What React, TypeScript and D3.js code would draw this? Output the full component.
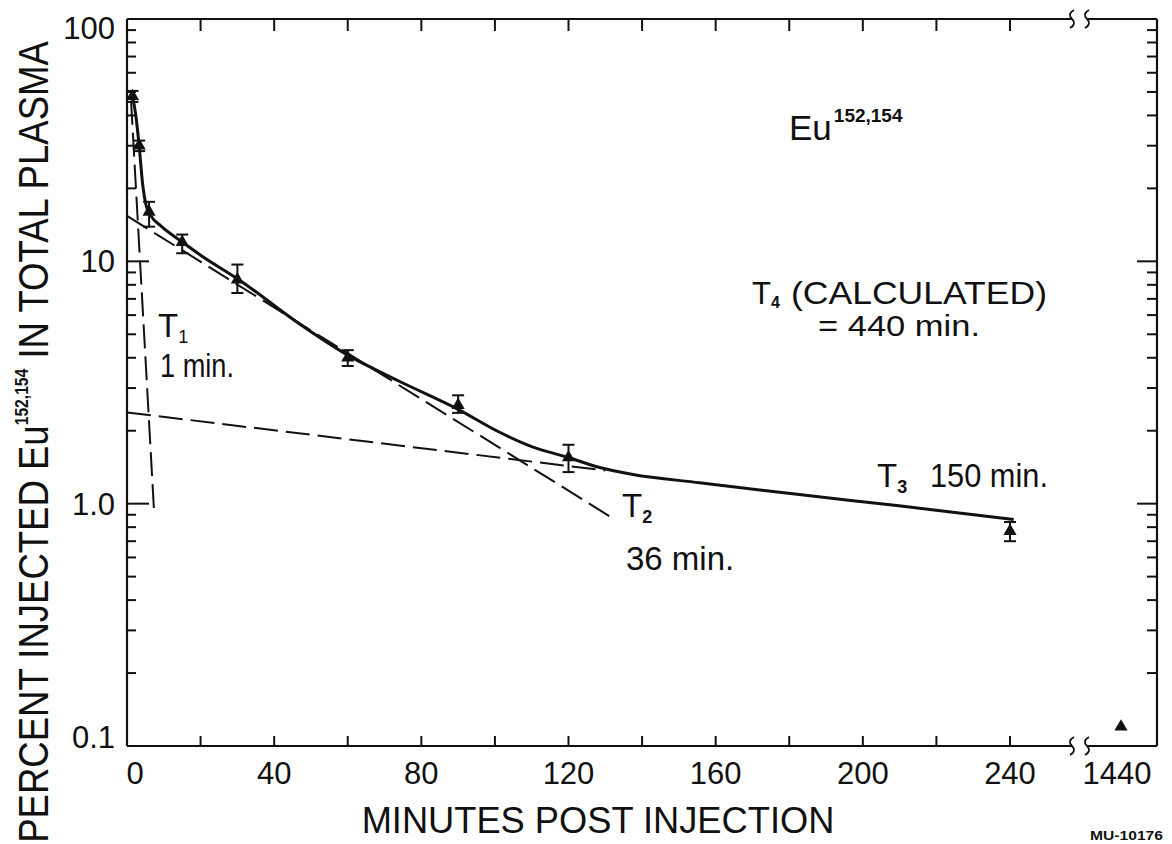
import * as d3 from "d3";

const WIDTH = 1172;
const HEIGHT = 844;

// measured samples (minutes post injection, % injected dose in plasma)
const sampleMinutes = [1.5, 3.3, 6, 15, 30, 60, 90, 120, 240];
const samplePercent = [48, 30, 16, 12, 8.4, 4.0, 2.55, 1.55, 0.77];
const errorHigh = [50.5, 31.5, 17.6, 12.9, 9.7, 4.3, 2.8, 1.75, 0.84];
const errorLow = [45.5, 28.5, 13.9, 10.8, 7.4, 3.7, 2.37, 1.35, 0.7];

const lateMinute = 1440;
const latePercent = 0.12;

// hand-drawn fitted curve
const fitMinutes = [1.5, 2.4, 3.3, 4.3, 5.2, 6.5, 9.2, 15.4, 20, 30.4, 47, 60, 74, 90, 101, 110, 120, 128.5, 137.5, 155.6, 182.7, 209.8, 241];
const fitPercent = [48, 40, 30, 20.5, 17, 15.4, 14, 11.9, 10.6, 8.4, 5.5, 4.1, 3.2, 2.45, 1.98, 1.72, 1.55, 1.41, 1.32, 1.22, 1.09, 0.98, 0.86];

// component half-life lines
const t1Minutes = [1.1, 7.3];
const t1Percent = [46, 0.96];
const t2Minutes = [0, 132.6];
const t2Percent = [15.4, 0.86];
const t3Minutes = [0, 130];
const t3Percent = [2.38, 1.37];

const xTickLabels = [0, 40, 80, 120, 160, 200, 240];
const xTickMarks = [20, 40, 60, 80, 100, 120, 140, 160, 180, 200, 220, 240];
const yTickValues = [100, 10, 1, 0.1];
const yTickText = ["100", "10", "1.0", "0.1"];

const FONT = "'Liberation Sans', Arial, sans-serif";

export default function App() {
  const left = 127;
  const right = 1157;
  const x = d3.scaleLinear().domain([0, 240]).range([left, 1010]);
  const xLate = d3.scaleLinear().domain([1400, 1480]).range([1085, right]);
  const y = d3.scaleLog().domain([0.1, 100]).range([746, 19]);
  const top = y(100);
  const bottom = y(0.1);
  const breakA = 1072;
  const breakB = 1087;

  const line = d3
    .line<[number, number]>()
    .x((d) => x(d[0]))
    .y((d) => y(d[1]));
  const fitLine = d3
    .line<[number, number]>()
    .x((d) => x(d[0]))
    .y((d) => y(d[1]))
    .curve(d3.curveMonotoneX);

  const fitPoints = fitMinutes.map((t, i) => [t, fitPercent[i]] as [number, number]);
  const dashed = [
    t1Minutes.map((t, i) => [t, t1Percent[i]] as [number, number]),
    t2Minutes.map((t, i) => [t, t2Percent[i]] as [number, number]),
    t3Minutes.map((t, i) => [t, t3Percent[i]] as [number, number])
  ];

  const minor: number[] = [];
  [0.1, 1, 10].forEach((d) => {
    for (let k = 2; k <= 9; k++) minor.push(k * d);
  });

  const tri = d3.symbol().type(d3.symbolTriangle).size(75)() ?? "";

  const squiggle = (cx: number, cy: number) =>
    `M${cx + 2},${cy - 9} Q${cx - 5},${cy - 5} ${cx},${cy} Q${cx + 5},${cy + 5} ${cx - 2},${cy + 9}`;

  return (
    <svg
      width={WIDTH}
      height={HEIGHT}
      viewBox={`0 0 ${WIDTH} ${HEIGHT}`}
      style={{ position: "absolute", left: 0, top: 0, background: "#fff" }}
      fontFamily={FONT}
    >
      <rect width={WIDTH} height={HEIGHT} fill="#fff" />

      {/* frame */}
      <g stroke="#111" strokeWidth={2.2} fill="none">
        <line x1={left} x2={left} y1={top} y2={bottom} />
        <line x1={right} x2={right} y1={top} y2={bottom} />
        <line x1={left} x2={breakA} y1={top} y2={top} />
        <line x1={breakB} x2={right} y1={top} y2={top} />
        <line x1={left} x2={breakA} y1={bottom} y2={bottom} />
        <line x1={breakB} x2={right} y1={bottom} y2={bottom} />
        {[breakA, breakB].map((bx) => (
          <g key={bx}>
            <path d={squiggle(bx, top)} strokeWidth={1.8} />
            <path d={squiggle(bx, bottom)} strokeWidth={1.8} />
          </g>
        ))}
      </g>

      {/* ticks */}
      <g stroke="#111" strokeWidth={2}>
        {xTickMarks.map((t) => (
          <g key={t}>
            <line x1={x(t)} x2={x(t)} y1={top} y2={top + 12} />
            <line x1={x(t)} x2={x(t)} y1={bottom} y2={bottom - 10} />
          </g>
        ))}
        {minor.map((v) => (
          <g key={v}>
            <line x1={left} x2={left + 9} y1={y(v)} y2={y(v)} />
            <line x1={right} x2={right - 10} y1={y(v)} y2={y(v)} />
          </g>
        ))}
        {[1, 10].map((v) => (
          <g key={v}>
            <line x1={left} x2={left + 22} y1={y(v)} y2={y(v)} />
            <line x1={right} x2={right - 20} y1={y(v)} y2={y(v)} />
          </g>
        ))}
      </g>

      {/* tick labels */}
      <g fontSize={31} fill="#111">
        {yTickValues.map((v, i) => (
          <text key={v} x={115} y={Math.min(Math.max(y(v) + 11, 39), 748)} textAnchor="end">
            {yTickText[i]}
          </text>
        ))}
        {xTickLabels.map((t) => (
          <text key={t} x={x(t) + (t === 0 ? 8 : 0)} y={784} textAnchor="middle">
            {t}
          </text>
        ))}
        <text x={xLate(lateMinute) - 4} y={784} textAnchor="middle">
          {lateMinute}
        </text>
      </g>

      {/* axis titles */}
      <text
        fontSize={37}
        fill="#111"
        textAnchor="middle"
        transform={`translate(598,833) scale(0.98,1)`}
      >
        MINUTES POST INJECTION
      </text>
      <text
        fontSize={42}
        fill="#111"
        textAnchor="middle"
        transform={`translate(48,442) rotate(-90) scale(0.87,1)`}
      >
        PERCENT INJECTED Eu
        <tspan fontSize={18} fontWeight="bold" dy={-20}>
          152,154
        </tspan>
        <tspan dy={20}> IN TOTAL PLASMA</tspan>
      </text>
      <text x={1090} y={840} fontSize={13} fontWeight="bold" fill="#111" textLength={73} lengthAdjust="spacingAndGlyphs">
        MU-10176
      </text>

      {/* half-life component lines */}
      <g stroke="#111" strokeWidth={2} fill="none" strokeDasharray="24 8">
        {dashed.map((pts, i) => (
          <path key={i} d={line(pts) ?? ""} />
        ))}
      </g>

      {/* fitted curve */}
      <path d={fitLine(fitPoints) ?? ""} stroke="#111" strokeWidth={3} fill="none" />

      {/* error bars and points */}
      <g stroke="#111" strokeWidth={2}>
        {sampleMinutes.map((t, i) => (
          <g key={t}>
            <line x1={x(t)} x2={x(t)} y1={y(errorHigh[i])} y2={y(errorLow[i])} />
            <line x1={x(t) - 6} x2={x(t) + 6} y1={y(errorHigh[i])} y2={y(errorHigh[i])} />
            <line x1={x(t) - 6} x2={x(t) + 6} y1={y(errorLow[i])} y2={y(errorLow[i])} />
          </g>
        ))}
      </g>
      <g fill="#111">
        {sampleMinutes.map((t, i) => (
          <path key={t} d={tri} transform={`translate(${x(t)},${y(samplePercent[i])})`} />
        ))}
        <path d={tri} transform={`translate(${xLate(lateMinute)},${y(latePercent)})`} />
      </g>

      {/* annotations */}
      <g fill="#111">
        <text x={789} y={140} fontSize={35}>
          Eu
          <tspan fontSize={19} fontWeight="bold" dy={-18} dx={2}>
            152,154
          </tspan>
        </text>
        <text x={752} y={304} fontSize={31}>
          T<tspan fontSize={16} fontWeight="bold" dy={4}>4</tspan>
        </text>
        <text x={791} y={304} fontSize={31} textLength={256} lengthAdjust="spacingAndGlyphs">
          (CALCULATED)
        </text>
        <text x={818} y={336} fontSize={30} textLength={162} lengthAdjust="spacingAndGlyphs">
          = 440 min.
        </text>
        <text x={158} y={337} fontSize={33}>
          T<tspan fontSize={18} dy={6}>1</tspan>
        </text>
        <text x={160} y={377} fontSize={33} textLength={74} lengthAdjust="spacingAndGlyphs">
          1 min.
        </text>
        <text x={622} y={517} fontSize={33}>
          T<tspan fontSize={18} fontWeight="bold" dy={6}>2</tspan>
        </text>
        <text x={626} y={570} fontSize={33}>
          36 min.
        </text>
        <text x={877} y={487} fontSize={33}>
          T<tspan fontSize={18} fontWeight="bold" dy={6}>3</tspan>
        </text>
        <text x={930} y={487} fontSize={33} textLength={118} lengthAdjust="spacingAndGlyphs">
          150 min.
        </text>
      </g>
    </svg>
  );
}
